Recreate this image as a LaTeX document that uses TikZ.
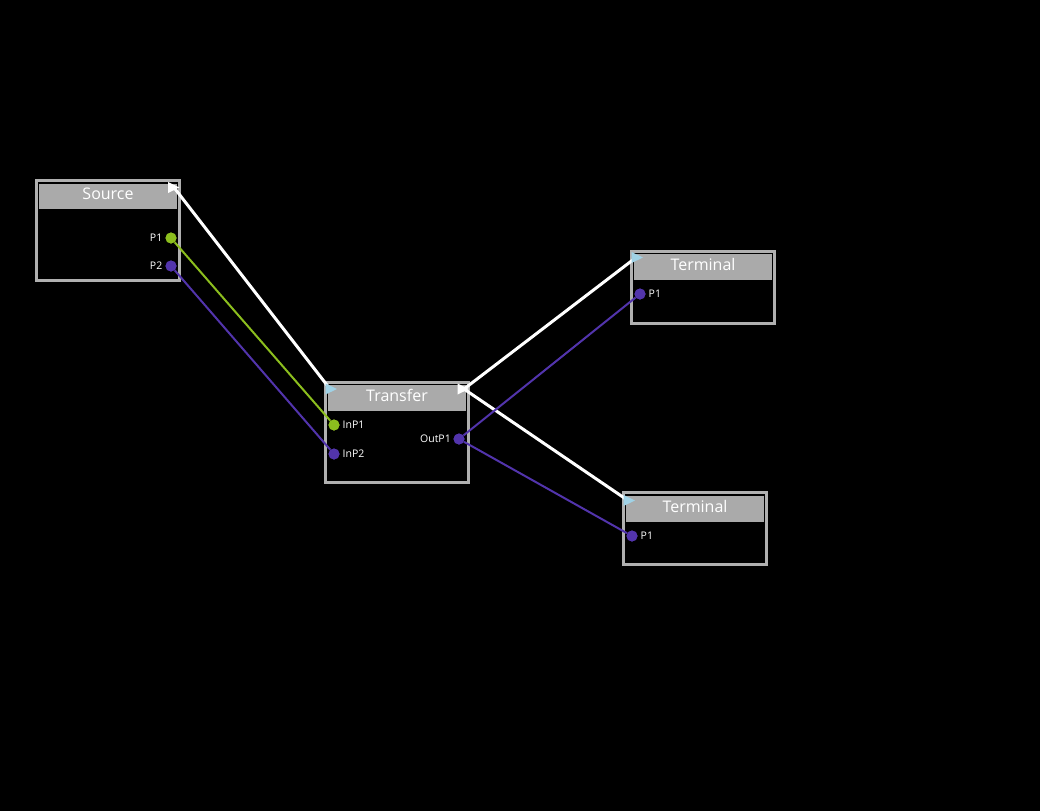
\documentclass[tikz,border=0pt]{standalone}
\usepackage{fontspec}
\setmainfont{Open Sans}
\definecolor{boxgray}{RGB}{176,176,176}
\definecolor{headgray}{RGB}{170,170,170}
\definecolor{portgreen}{RGB}{140,190,30}
\definecolor{portpurple}{RGB}{82,52,172}
\definecolor{triblue}{RGB}{160,210,230}
\tikzset{
  frame/.style={draw=boxgray, line width=3pt, fill=black, inner sep=0pt, minimum width=143pt},
  header/.style={fill=headgray, text=white, inner sep=0pt, minimum width=138pt, minimum height=25.5pt, text height=8pt, text depth=1.5pt, font=\fontsize{16}{18}\selectfont},
  port/.style={circle, inner sep=0pt, minimum size=11pt},
  gport/.style={port, fill=portgreen},
  pport/.style={port, fill=portpurple},
  plabel/.style={text=white, inner sep=0pt, font=\fontsize{10.5}{12}\selectfont},
  flow/.style={draw=white, line width=3pt},
  glink/.style={draw=portgreen, line width=2pt},
  plink/.style={draw=portpurple, line width=2pt},
}
\begin{document}
\begin{tikzpicture}[x=1pt,y=-1pt]
\fill[black] (0,0) rectangle (1040,811);
\useasboundingbox (0,0) rectangle (1040,811);

% frames
\node[frame, minimum height=100pt] (src) at (108,230.5) {};
\node[frame, minimum height=100pt] (tr) at (397,432.5) {};
\node[frame, minimum height=72pt] (t1) at (703,287) {};
\node[frame, minimum height=72pt] (t2) at (695,528.5) {};

% headers
\node[header] (srcH) at (108,196.5) {Source};
\node[header] (trH) at (397,397.75) {Transfer};
\node[header] (t1H) at (703,267) {Terminal};
\node[header] (t2H) at (695,509) {Terminal};

% ports
\node[gport] (srcP1) at (171,238) {};
\node[pport] (srcP2) at (171,266) {};
\node[gport] (trIn1) at (334,425) {};
\node[pport] (trIn2) at (334,454) {};
\node[pport] (trOut1) at (459,439) {};
\node[pport] (t1P1) at (640,294) {};
\node[pport] (t2P1) at (632,536) {};

% port labels
\node[plabel, anchor=east] (lSrcP1) at (162.5,238) {P1};
\node[plabel, anchor=east] (lSrcP2) at (162.5,266) {P2};
\node[plabel, anchor=west] (lTrIn1) at (342.5,425) {InP1};
\node[plabel, anchor=west] (lTrIn2) at (342.5,454) {InP2};
\node[plabel, anchor=east] (lTrOut1) at (451,439) {OutP1};
\node[plabel, anchor=west] (lT1P1) at (648.5,294) {P1};
\node[plabel, anchor=west] (lT2P1) at (640.5,536) {P1};

% flow anchor coordinates
\coordinate (srcF) at (174,187.5);
\coordinate (trFin) at (330,389);
\coordinate (trFout) at (464,389);
\coordinate (t1F) at (636,257.5);
\coordinate (t2F) at (628,500.5);

% connectors
\draw[flow] (srcF) -- (trFin);
\draw[flow] (trFout) -- (t1F);
\draw[flow] (trFout) -- (t2F);
\draw[glink] (srcP1) -- (trIn1);
\draw[plink] (srcP2) -- (trIn2);
\draw[plink] (trOut1) -- (t1P1);
\draw[plink] (trOut1) -- (t2P1);

% redraw port dots on top
\foreach \p/\c in {srcP1/portgreen,trIn1/portgreen,srcP2/portpurple,trIn2/portpurple,trOut1/portpurple,t1P1/portpurple,t2P1/portpurple}
  \fill[\c] (\p) circle (5.5pt);

% flow triangles
\fill[white] (168,182) -- (179.5,187.5) -- (168,193) -- cycle;
\fill[triblue] (325.5,383.5) -- (337,389) -- (325.5,394.5) -- cycle;
\fill[white] (457.5,383.5) -- (469,389) -- (457.5,394.5) -- cycle;
\fill[triblue] (631.5,252) -- (643,257.5) -- (631.5,263) -- cycle;
\fill[triblue] (623.5,495) -- (635,500.5) -- (623.5,506) -- cycle;
\end{tikzpicture}
\end{document}
